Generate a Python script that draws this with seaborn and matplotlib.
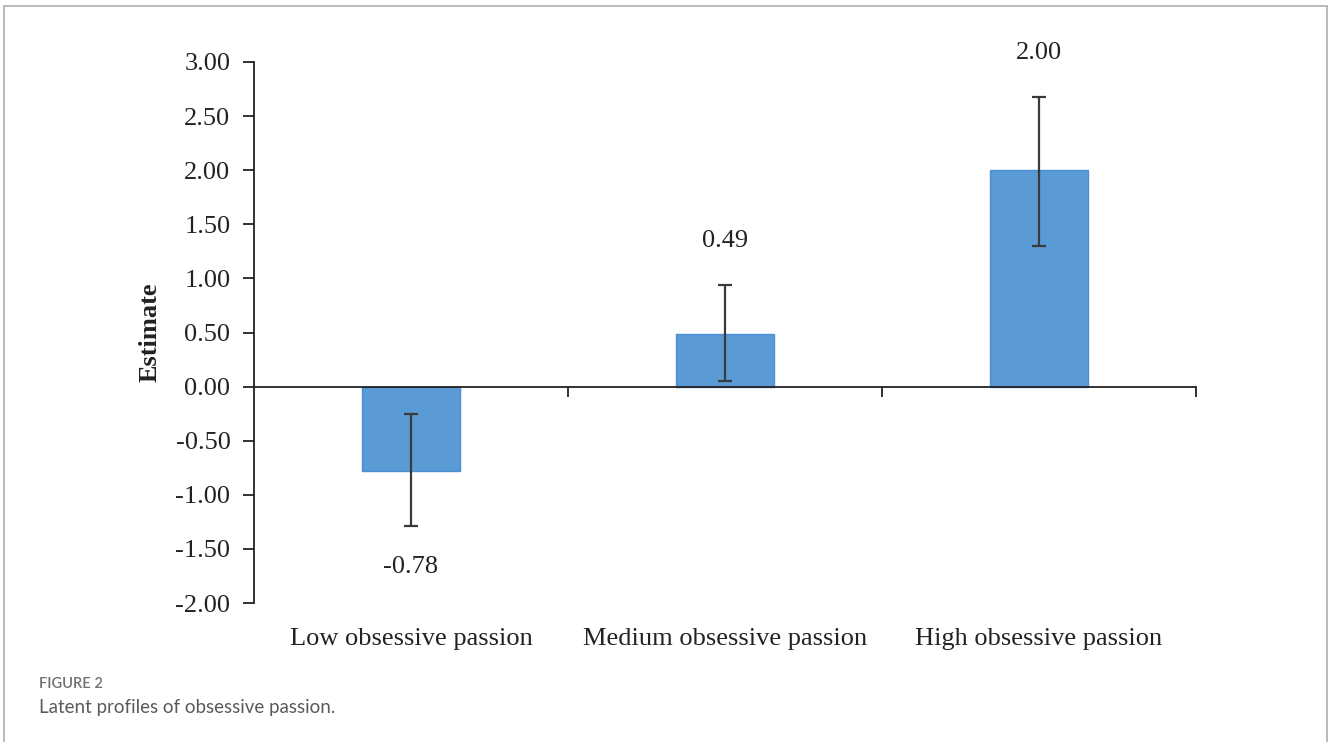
import matplotlib
matplotlib.use("Agg")
import matplotlib.pyplot as plt
import matplotlib.ticker as mticker
from matplotlib.patches import Rectangle
import seaborn as sns
import pandas as pd

# Latent profile estimates with asymmetric error bar extents
profiles = ["Low obsessive passion", "Medium obsessive passion", "High obsessive passion"]
estimates = [-0.78, 0.49, 2.00]
err_lower = [0.51, 0.44, 0.70]
err_upper = [0.53, 0.45, 0.68]
value_labels = ["-0.78", "0.49", "2.00"]
y_ticks = [-2.0, -1.5, -1.0, -0.5, 0.0, 0.5, 1.0, 1.5, 2.0, 2.5, 3.0]

sns.set_theme(style="white")
plt.rcParams["font.family"] = ["Liberation Serif", "DejaVu Serif"]
plt.rcParams["axes.unicode_minus"] = False

W, H = 1328, 742
fig = plt.figure(figsize=(W / 100, H / 100), dpi=100)
fig.patch.set_facecolor("white")
ax = fig.add_axes([254 / W, 1 - 603 / H, 942 / W, 541 / H])

df = pd.DataFrame({"profile": profiles, "estimate": estimates})
sns.barplot(data=df, x="profile", y="estimate", color="#5B9BD5", saturation=1,
            width=0.31, errorbar=None, edgecolor="#4A8ED3", linewidth=1.0, ax=ax)

xpos = list(range(len(profiles)))
ax.errorbar(xpos, estimates, yerr=[err_lower, err_upper], fmt="none",
            ecolor="#3a3a3a", elinewidth=1.6, capsize=5, capthick=1.6, zorder=3)

# value labels beyond the error bar ends
for i, (v, lo, up, lab) in enumerate(zip(estimates, err_lower, err_upper, value_labels)):
    if v >= 0:
        ax.annotate(lab, xy=(i, v + up), xytext=(0, 44), textcoords="offset pixels",
                    ha="center", va="center", fontsize=19, color="#222222")
    else:
        ax.annotate(lab, xy=(i, v - lo), xytext=(0, -41), textcoords="offset pixels",
                    ha="center", va="center", fontsize=19, color="#222222")

ax.set_xlim(-0.5, 2.5)
ax.set_ylim(-2, 3)
ax.set_yticks(y_ticks)
ax.yaxis.set_major_formatter(mticker.FormatStrFormatter("%.2f"))

# axis line through zero with category boundary ticks
for s in ["right", "bottom"]:
    ax.spines[s].set_visible(False)
ax.spines["top"].set_visible(True)
ax.spines["top"].set_position(("data", 0))
ax.spines["top"].set_color("#222222")
ax.spines["top"].set_linewidth(1.3)
ax.spines["left"].set_color("#222222")
ax.spines["left"].set_linewidth(1.3)

ax.tick_params(axis="y", direction="out", length=8, width=1.3, color="#222222",
               pad=9, labelsize=19, labelcolor="#222222", left=True)
ax.tick_params(axis="x", which="major", bottom=True, top=False, length=0, pad=18,
               labelsize=19, labelcolor="#222222")
ax.set_xticks([0.5, 1.5, 2.5], minor=True)
ax.tick_params(axis="x", which="minor", top=True, bottom=False, direction="in",
               length=7, width=1.3, color="#222222")

ax.set_xlabel("")
ax.set_ylabel("Estimate", fontsize=19, fontweight="bold", color="#222222")
ax.yaxis.set_label_coords((162 - 254) / 942, 0.5)

# outer frame and caption
fig.patches.append(Rectangle((4 / W, -0.05), (1327 - 4) / W, 1 - 6 / H + 0.05,
                             transform=fig.transFigure, fill=False,
                             edgecolor="#b5b5b5", linewidth=1.3))
fig.text(39 / W, 1 - 684 / H, "FIGURE 2", family=["Lato", "DejaVu Sans"],
         fontsize=10.5, color="#707070", va="center", ha="left", fontweight="semibold")
fig.text(39 / W, 1 - 707 / H, "Latent profiles of obsessive passion.",
         family=["Lato", "DejaVu Sans"], fontsize=13.5, color="#5a5a5a",
         va="center", ha="left")

fig.savefig("out.png", dpi=100)
